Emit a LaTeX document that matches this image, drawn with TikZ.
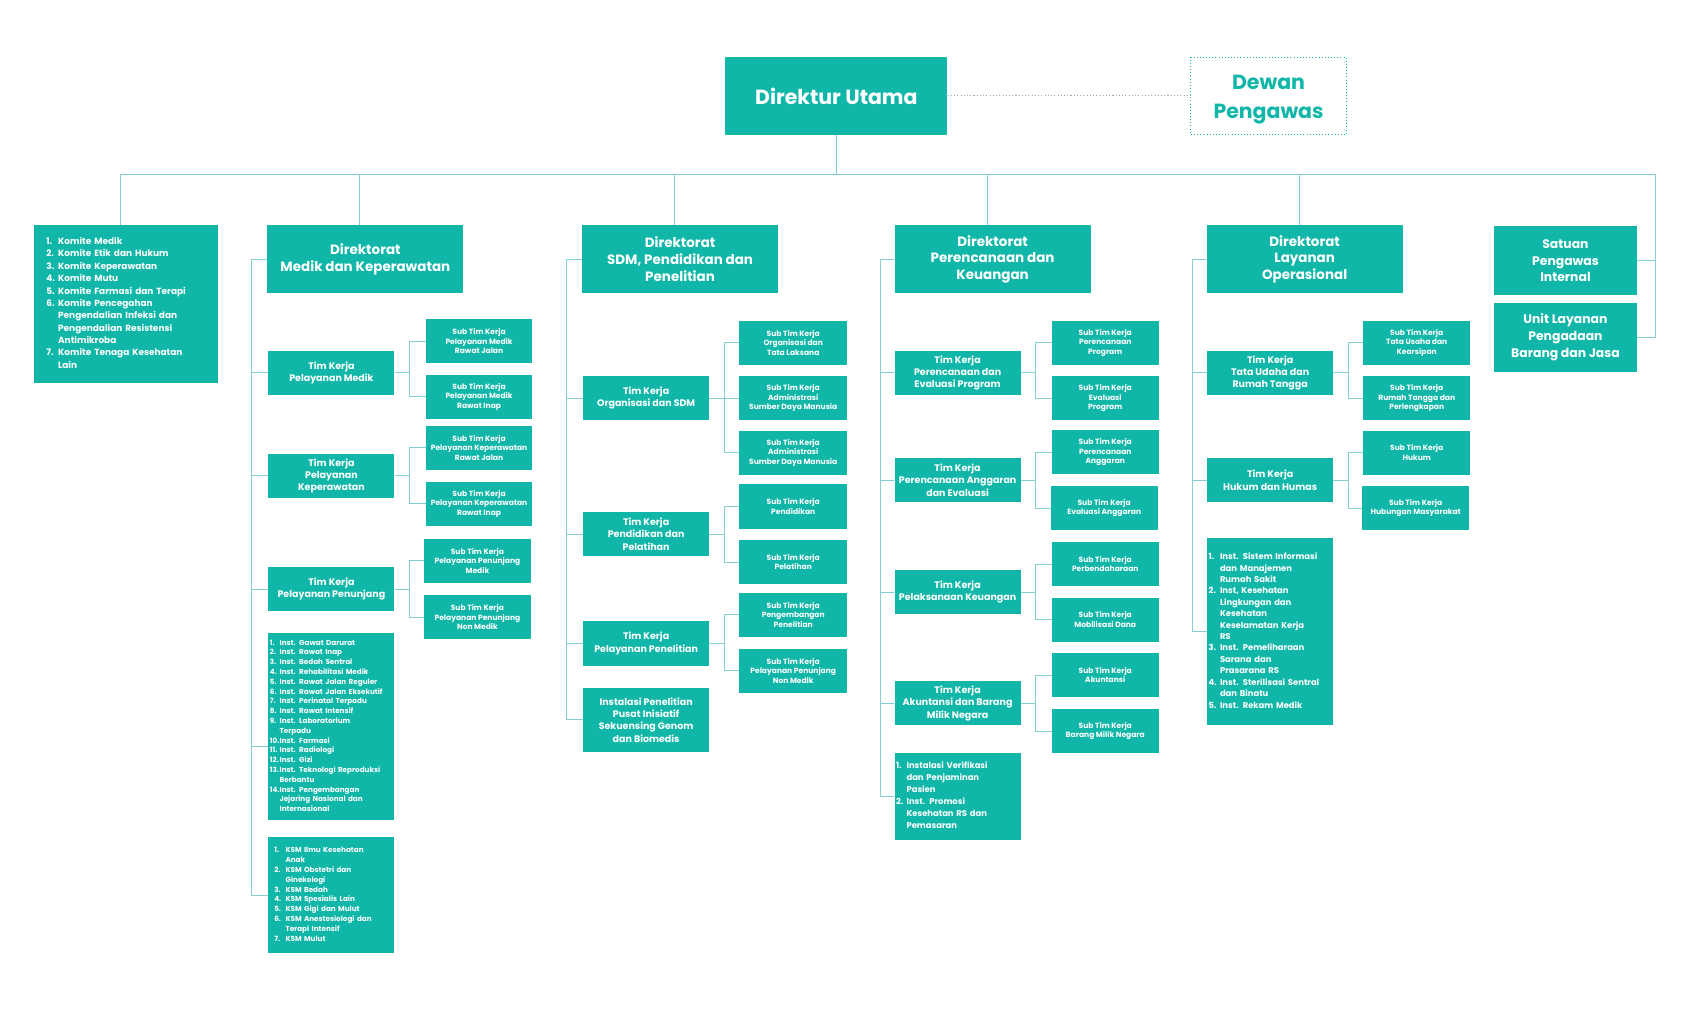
\documentclass[tikz,border=0pt]{standalone}
\usepackage{fontspec}
\setmainfont{Poppins}
\usetikzlibrary{calc}
\definecolor{boxteal}{RGB}{16,183,168}
\definecolor{lineteal}{RGB}{130,207,207}
\definecolor{dotgray}{RGB}{165,165,165}
\def\fs#1#2{\bfseries\fontsize{#1}{#2}\selectfont}

\begin{document}
\begin{tikzpicture}[x=1pt, y=-1pt,
	unit/.style={fill=boxteal, text=white, inner sep=0pt, align=center},
	direktur/.style={unit, minimum width=206, minimum height=72, font=\fs{19}{23}},
	dirbox/.style={unit, minimum width=182, minimum height=63, font=\fs{12.5}{15.5}},
	timbox/.style={unit, minimum width=117, minimum height=41, font=\fs{8.8}{11.4}},
	subbox/.style={unit, minimum width=99, minimum height=41, font=\fs{7}{8.8}},
	listbox/.style={unit, align=left},
	link/.style={draw=lineteal, line width=0.9}]
		%%%%% START %%%%%
		\fill[white] (0,0) rectangle (1569,937);
		\useasboundingbox (0,0) rectangle (1569,937);
		
		\node[direktur] (du) at (776,89) {Direktur Utama};
		\node[draw=boxteal, dotted, line width=0.9, text=boxteal, minimum width=144, minimum height=72, inner sep=0pt, align=center, font=\fs{19}{27}] (dp) at (1177,89) {\rule{0pt}{20pt}Dewan\\Pengawas};
		\draw[dotgray, dotted, line width=1] (du.east) -- (dp.west);
		
		%% komite
		\node[listbox, text width=148, inner xsep=11, minimum height=146, font=\fs{8.3}{11.5}] (komite) at (117,282) {\begin{tabular}{@{}l@{\hspace{3pt}}l@{}}
			1. & Komite Medik\\
			2. & Komite Etik dan Hukum\\
			3. & Komite Keperawatan\\
			4. & Komite Mutu\\
			5. & Komite Farmasi dan Terapi\\
			6. & Komite Pencegahan\\
			   & Pengendalian Infeksi dan\\
			   & Pengendalian Resistensi\\
			   & Antimikroba\\
			7. & Komite Tenaga Kesehatan\\
			   & Lain
		\end{tabular}};
		
		%% direktorat
		\node[dirbox] (dirM) at (339,240.5) {Direktorat\\Medik dan Keperawatan};
		\node[dirbox] (dirS) at (631,240.5) {Direktorat\\SDM, Pendidikan dan\\Penelitian};
		\node[dirbox] (dirP) at (921,240.5) {Direktorat\\Perencanaan dan\\Keuangan};
		\node[dirbox] (dirL) at (1210.5,240.5) {Direktorat\\Layanan\\Operasional};
		\node[unit, minimum width=133, minimum height=64, font=\fs{11.5}{15.5}] (spi) at (1452.5,242) {Satuan\\Pengawas\\Internal};
		\node[unit, minimum width=133, minimum height=64, font=\fs{11.5}{15.5}] (ulp) at (1452.5,313) {Unit Layanan\\Pengadaan\\Barang dan Jasa};
		
		\draw[link] (du.south) -- ++(0,37) coordinate (bus);
		\coordinate (busR) at (1536,162);
		\draw[link] ($(komite.north)+(-5,0)$) |- (busR) |- (ulp.east);
		\draw[link] (spi.east) -- (spi.east -| busR);
		\foreach \d in {dirM,dirS,dirP,dirL}
			\draw[link] ($(\d.north)+(-5,0)$) -- ($(\d.north |- bus)+(-5,0)$);
		
		%% medik dan keperawatan
		\node[timbox] (timPM) at (307.5,346) {Tim Kerja\\Pelayanan Medik};
		\node[subbox] (sMRJ) at (444.5,316.5) {Sub Tim Kerja\\Pelayanan Medik\\Rawat Jalan};
		\node[subbox] (sMRI) at (444.5,368) {Sub Tim Kerja\\Pelayanan Medik\\Rawat Inap};
		\node[timbox] (timPK) at (307.5,441.5) {Tim Kerja\\Pelayanan\\Keperawatan};
		\node[subbox] (sKRJ) at (444.5,415.5) {Sub Tim Kerja\\Pelayanan Keperawatan\\Rawat Jalan};
		\node[subbox] (sKRI) at (444.5,467.5) {Sub Tim Kerja\\Pelayanan Keperawatan\\Rawat Inap};
		\node[timbox] (timPP) at (307.5,546.5) {Tim Kerja\\Pelayanan Penunjang};
		\node[subbox] (sPM) at (443,520.5) {Sub Tim Kerja\\Pelayanan Penunjang\\Medik};
		\node[subbox] (sPNM) at (443,572.5) {Sub Tim Kerja\\Pelayanan Penunjang\\Non Medik};
		\node[listbox, text width=114, inner xsep=1.5, minimum height=174, font=\fs{6.7}{9.1}] (instM) at (307.5,674) {\begin{tabular}{@{}l@{}l@{}}
			1. & Inst. Gawat Darurat\\
			2. & Inst. Rawat Inap\\
			3. & Inst. Bedah Sentral\\
			4. & Inst. Rehabilitasi Medik\\
			5. & Inst. Rawat Jalan Reguler\\
			6. & Inst. Rawat Jalan Eksekutif\\
			7. & Inst. Perinatal Terpadu\\
			8. & Inst. Rawat Intensif\\
			9. & Inst. Laboratorium\\
			   & Terpadu\\
			10. & Inst. Farmasi\\
			11. & Inst. Radiologi\\
			12. & Inst. Gizi\\
			13. & Inst. Teknologi Reproduksi\\
			    & Berbantu\\
			14. & Inst. Pengembangan\\
			    & Jejaring Nasional dan\\
			    & Internasional
		\end{tabular}};
		\node[listbox, text width=106, inner xsep=5.5, minimum height=107, font=\fs{6.7}{9.1}] (ksm) at (307.5,830.5) {\begin{tabular}{@{}l@{\hspace{4pt}}l@{}}
			1. & KSM Ilmu Kesehatan\\
			   & Anak\\
			2. & KSM Obstetri dan\\
			   & Ginekologi\\
			3. & KSM Bedah\\
			4. & KSM Spesialis Lain\\
			5. & KSM Gigi dan Mulut\\
			6. & KSM Anestesiologi dan\\
			   & Terapi Intensif\\
			7. & KSM Mulut
		\end{tabular}};
		
		\draw[link] (dirM.west) -- ++(-14,0) coordinate (spM) |- (ksm.west);
		\foreach \t in {timPM,timPK,timPP}
			\draw[link] (spM |- \t.west) -- (\t.west);
		\draw[link] (spM |- 0,693) -- (instM.west |- 0,693);
		
		%% sdm, pendidikan dan penelitian
		\node[timbox] (timOS) at (599.5,369.5) {Tim Kerja\\Organisasi dan SDM};
		\node[subbox, minimum width=100] (sOTL) at (736,318) {Sub Tim Kerja\\Organisasi dan\\Tata Laksana};
		\node[subbox, minimum width=100] (sAS1) at (736,369.5) {Sub Tim Kerja\\Administrasi\\Sumber Daya Manusia};
		\node[subbox, minimum width=100] (sAS2) at (736,420) {Sub Tim Kerja\\Administrasi\\Sumber Daya Manusia};
		\node[timbox] (timPdk) at (599.5,495.5) {Tim Kerja\\Pendidikan dan\\Pelatihan};
		\node[subbox, minimum width=100] (sPdk) at (736,470) {Sub Tim Kerja\\Pendidikan};
		\node[subbox, minimum width=100] (sPlt) at (736,521.5) {Sub Tim Kerja\\Pelatihan};
		\node[timbox] (timPPn) at (599.5,597) {Tim Kerja\\Pelayanan Penelitian};
		\node[subbox, minimum width=100] (sPng) at (736,570.5) {Sub Tim Kerja\\Pengembangan\\Penelitian};
		\node[subbox, minimum width=100] (sPNM2) at (736,622.5) {Sub Tim Kerja\\Pelayanan Penunjang\\Non Medik};
		\node[timbox, minimum height=60] (instS) at (599.5,668) {Instalasi Penelitian\\Pusat Inisiatif\\Sekuensing Genom\\dan Biomedis};
		
		\draw[link] (dirS.west) -- ++(-14,0) coordinate (spS) |- (instS.west);
		\foreach \t in {timOS,timPdk,timPPn}
			\draw[link] (spS |- \t.west) -- (\t.west);
		
		%% perencanaan dan keuangan
		\node[timbox] (timPEP) at (888.5,346) {Tim Kerja\\Perencanaan dan\\Evaluasi Program};
		\node[subbox] (sPP) at (1025.5,318) {Sub Tim Kerja\\Perencanaan\\Program};
		\node[subbox] (sEP) at (1025.5,369.5) {Sub Tim Kerja\\Evaluasi\\Program};
		\node[timbox] (timPAE) at (888.5,445.5) {Tim Kerja\\Perencanaan Anggaran\\dan Evaluasi};
		\node[subbox] (sPA) at (1025.5,419.5) {Sub Tim Kerja\\Perencanaan\\Anggaran};
		\node[subbox] (sEA) at (1024.5,471.5) {Sub Tim Kerja\\Evaluasi Anggaran};
		\node[timbox] (timPKu) at (888.5,549.5) {Tim Kerja\\Pelaksanaan Keuangan};
		\node[subbox] (sPrb) at (1025.5,523.5) {Sub Tim Kerja\\Perbendaharaan};
		\node[subbox] (sMD) at (1025.5,575) {Sub Tim Kerja\\Mobilisasi Dana};
		\node[timbox] (timABM) at (888.5,652.5) {Tim Kerja\\Akuntansi dan Barang\\Milik Negara};
		\node[subbox] (sAk) at (1025.5,626.5) {Sub Tim Kerja\\Akuntansi};
		\node[subbox] (sBMN) at (1025.5,678.5) {Sub Tim Kerja\\Barang Milik Negara};
		\node[listbox, text width=114, inner xsep=1.5, minimum height=80, font=\fs{7.8}{11.1}] (instP) at (888.5,739) {\begin{tabular}{@{}l@{\hspace{3pt}}l@{}}
			1. & Instalasi Verifikasi\\
			   & dan Penjaminan\\
			   & Pasien\\
			2. & Inst. Promosi\\
			   & Kesehatan RS dan\\
			   & Pemasaran
		\end{tabular}};
		
		\draw[link] (dirP.west) -- ++(-13,0) coordinate (spP) |- (instP.west);
		\foreach \t in {timPEP,timPAE,timPKu,timABM}
			\draw[link] (spP |- \t.west) -- (\t.west);
		
		%% layanan operasional
		\node[timbox] (timTU) at (1178.5,346) {Tim Kerja\\Tata Udaha dan\\Rumah Tangga};
		\node[subbox] (sTU) at (1314.5,318) {Sub Tim Kerja\\Tata Usaha dan\\Kearsipan};
		\node[subbox] (sRT) at (1314.5,369.5) {Sub Tim Kerja\\Rumah Tangga dan\\Perlengkapan};
		\node[timbox] (timHH) at (1178.5,445.5) {Tim Kerja\\Hukum dan Humas};
		\node[subbox] (sHk) at (1314.5,420) {Sub Tim Kerja\\Hukum};
		\node[subbox] (sHM) at (1313.5,471.5) {Sub Tim Kerja\\Hubungan Masyarakat};
		\node[listbox, text width=114, inner xsep=1.5, minimum height=174, font=\fs{7.8}{10.6}] (instL) at (1178.5,586) {\begin{tabular}{@{}l@{\hspace{3pt}}l@{}}
			1. & Inst. Sistem Informasi\\
			   & dan Manajemen\\
			   & Rumah Sakit\\
			2. & Inst, Kesehatan\\
			   & Lingkungan dan\\
			   & Kesehatan\\
			   & Keselamatan Kerja\\
			   & RS\\
			3. & Inst. Pemeliharaan\\
			   & Sarana dan\\
			   & Prasarana RS\\
			4. & Inst. Sterilisasi Sentral\\
			   & dan Binatu\\
			5. & Inst. Rekam Medik
		\end{tabular}};
		
		\draw[link] (dirL.west) -- ++(-13,0) coordinate (spL) |- (instL.west);
		\foreach \t in {timTU,timHH}
			\draw[link] (spL |- \t.west) -- (\t.west);
		
		%% sub tim forks
		\foreach \t/\a/\b in {timPM/sMRJ/sMRI, timPK/sKRJ/sKRI, timPP/sPM/sPNM,
			timOS/sOTL/sAS2, timPdk/sPdk/sPlt, timPPn/sPng/sPNM2,
			timPEP/sPP/sEP, timPAE/sPA/sEA, timPKu/sPrb/sMD, timABM/sAk/sBMN,
			timTU/sTU/sRT, timHH/sHk/sHM} {
			\draw[link] (\t.east) -- ++(14,0) |- (\a.west);
			\draw[link] (\t.east) -- ++(14,0) |- (\b.west);
		}
		\draw[link] (timOS.east) -- (sAS1.west);
		%%%%% END %%%%%
\end{tikzpicture}
\end{document}
